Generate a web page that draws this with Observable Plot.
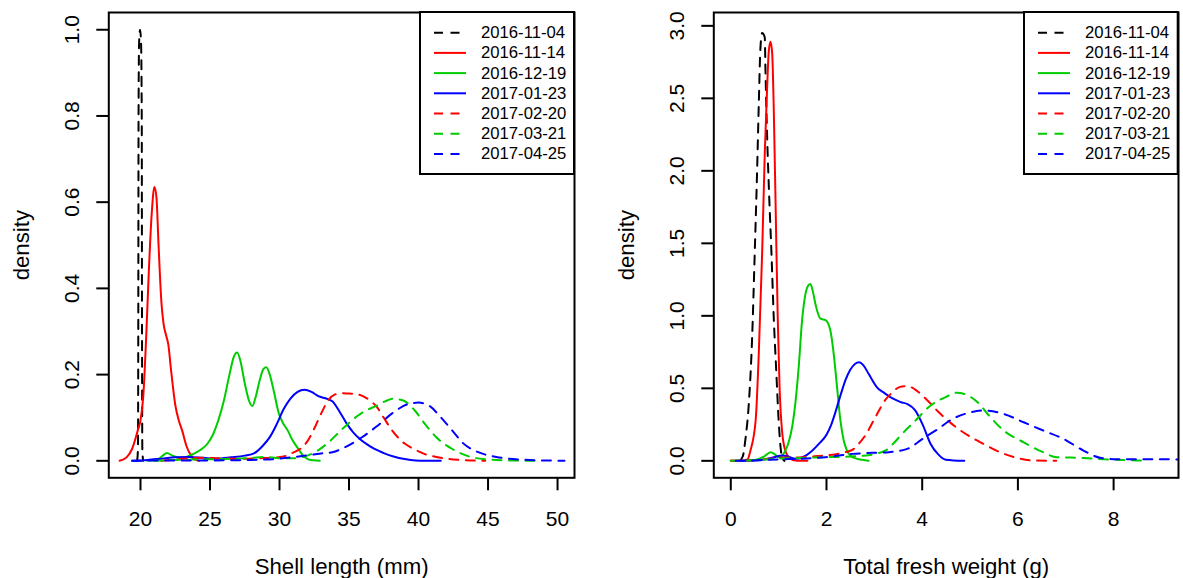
<!DOCTYPE html>
<html><head><meta charset="utf-8">
<script src="https://cdn.jsdelivr.net/npm/d3@7"></script>
<script src="https://cdn.jsdelivr.net/npm/@observablehq/plot@0.6"></script>
<style>
body{margin:0;background:#fff;}
#wrap{position:relative;width:1183px;height:578px;display:flex;font-family:"Liberation Sans",Arial,sans-serif;}
#wrap svg{display:block;}
.legend{position:absolute;}
</style></head><body><div id="wrap"></div>
<script>
// ---- categories / styles ----
const dates = ["2016-11-04","2016-11-14","2016-12-19","2017-01-23","2017-02-20","2017-03-21","2017-04-25"];
const colors = ["#000000","#FF0000","#00CD00","#0000FF","#FF0000","#00CD00","#0000FF"];
const dashed = [true,false,false,false,true,true,true];

// ---- left panel: Shell length (mm) ----
const shellX_1104 = [19.76,19.82,19.84,19.86,19.9,19.97,20.04,20.09,20.11,20.13,20.19];
const shellY_1104 = [0,0.03,0.3,0.8,0.97,1.0,0.97,0.8,0.3,0.03,0];
const shellX_1114 = [18.5,19.0,19.4,19.8,20.0,20.2,20.4,20.6,20.8,21.0,21.15,21.3,21.5,21.65,21.85,22.0,22.2,22.5,22.75,23.0,23.3,23.6,23.9,24.2];
const shellY_1114 = [0,0.008,0.028,0.07,0.094,0.15,0.28,0.44,0.57,0.635,0.61,0.5,0.37,0.32,0.29,0.27,0.21,0.13,0.094,0.07,0.035,0.014,0.003,0];
const shellX_1219 = [20.5,21.2,21.6,21.9,22.3,22.8,23.3,23.8,24.3,24.8,25.2,25.6,26.0,26.4,26.7,26.95,27.2,27.5,27.8,28.05,28.3,28.6,28.85,29.05,29.3,29.6,29.95,30.3,30.6,30.9,31.3,31.7,32.1,32.9];
const shellY_1219 = [0,0.003,0.012,0.018,0.012,0.007,0.009,0.016,0.025,0.039,0.06,0.094,0.14,0.2,0.24,0.251,0.23,0.18,0.14,0.127,0.15,0.19,0.213,0.217,0.2,0.16,0.11,0.085,0.07,0.05,0.03,0.012,0.003,0];
const shellX_0123 = [19.4,20.5,21.5,22.5,23.5,24.5,25.5,26.5,27.5,28.2,28.8,29.3,29.8,30.3,30.8,31.3,31.8,32.3,32.8,33.3,33.8,34.3,34.8,35.3,35.8,36.3,36.8,37.5,38.2,39.0,39.8,41.6];
const shellY_0123 = [0,0.002,0.005,0.008,0.009,0.007,0.005,0.008,0.012,0.018,0.035,0.055,0.085,0.12,0.145,0.16,0.165,0.16,0.15,0.145,0.138,0.115,0.088,0.066,0.05,0.038,0.028,0.018,0.01,0.004,0.001,0];
const shellX_0220 = [21.5,22.5,23.5,24.5,25.5,26.5,27.5,28.5,29.5,30.3,30.9,31.5,32.0,32.5,33.0,33.5,34.0,34.5,35.0,35.5,36.0,36.5,37.0,37.5,38.0,38.5,39.0,39.5,40.0,40.5,41.0,42.0,43.0,44.8];
const shellY_0220 = [0,0.003,0.006,0.007,0.006,0.005,0.005,0.006,0.007,0.01,0.018,0.028,0.045,0.075,0.11,0.14,0.154,0.157,0.156,0.155,0.15,0.14,0.125,0.1,0.075,0.055,0.04,0.03,0.022,0.015,0.011,0.005,0.002,0];
const shellX_0321 = [21.0,22.5,24.0,25.5,27.0,28.0,29.0,30.0,31.0,32.0,32.8,33.5,34.3,35.0,35.65,36.3,37.0,37.6,38.2,38.9,39.7,40.5,41.3,42.4,43.75,45.1,46.5,48.4];
const shellY_0321 = [0,0.002,0.003,0.004,0.005,0.007,0.009,0.006,0.006,0.012,0.025,0.042,0.067,0.088,0.105,0.118,0.128,0.138,0.144,0.14,0.118,0.084,0.054,0.028,0.009,0.003,0.001,0];
const shellX_0425 = [19.4,22,25,28,30,31.6,33.0,33.8,34.8,35.9,37.0,38.1,39.2,40.0,40.8,41.6,42.4,43.2,44.3,45.6,47.3,50.5];
const shellY_0425 = [0,0.001,0.001,0.002,0.005,0.011,0.017,0.02,0.033,0.054,0.08,0.11,0.131,0.135,0.127,0.101,0.071,0.041,0.02,0.009,0.003,0];

// ---- right panel: Total fresh weight (g) ----
const wtX_1104 = [0.18,0.25,0.31,0.376,0.446,0.5,0.55,0.585,0.62,0.655,0.71,0.725,0.76,0.795,0.85,0.9,0.95,1.0,1.04,1.07,1.12];
const wtY_1104 = [0,0.03,0.16,0.39,0.85,1.43,2.0,2.46,2.85,2.95,2.92,2.69,2.23,1.89,1.43,0.97,0.62,0.28,0.094,0.025,0];
const wtX_1114 = [0,0.2,0.35,0.41,0.52,0.585,0.655,0.71,0.76,0.795,0.83,0.865,0.9,0.94,0.98,1.02,1.07,1.14,1.25,1.35,1.6];
const wtY_1114 = [0,0,0.01,0.07,0.28,0.74,1.43,2.12,2.58,2.83,2.89,2.81,2.4,1.7,1.0,0.5,0.21,0.07,0.014,0.003,0];
const wtX_1219 = [0.3,0.5,0.7,0.83,0.92,1.0,1.07,1.14,1.21,1.28,1.35,1.42,1.49,1.56,1.62,1.665,1.72,1.77,1.875,1.98,2.08,2.15,2.22,2.29,2.36,2.43,2.54,2.75,2.88];
const wtY_1219 = [0,0.005,0.03,0.06,0.045,0.025,0.035,0.07,0.13,0.23,0.4,0.65,0.97,1.15,1.21,1.22,1.16,1.08,0.98,0.97,0.9,0.74,0.51,0.28,0.14,0.07,0.025,0.007,0];
const wtX_0123 = [0.2,0.6,0.9,1.07,1.2,1.35,1.5,1.7,1.85,2.0,2.1,2.2,2.3,2.4,2.5,2.6,2.68,2.78,2.88,3.06,3.2,3.38,3.55,3.7,3.85,4.01,4.17,4.33,4.49,4.88];
const wtY_0123 = [0,0.005,0.025,0.037,0.03,0.014,0.025,0.07,0.12,0.18,0.25,0.35,0.46,0.56,0.63,0.67,0.68,0.655,0.6,0.505,0.47,0.43,0.405,0.39,0.35,0.25,0.12,0.046,0.008,0];
const wtX_0220 = [0,0.5,1.0,1.5,1.8,2.2,2.4,2.54,2.68,2.81,3.02,3.23,3.37,3.5,3.62,3.75,3.9,4.1,4.33,4.6,4.96,5.28,5.63,5.98,6.33,6.8];
const wtY_0220 = [0,0.005,0.02,0.025,0.033,0.046,0.06,0.075,0.12,0.175,0.3,0.42,0.47,0.505,0.515,0.51,0.48,0.42,0.34,0.26,0.175,0.117,0.059,0.02,0.002,0];
const wtX_0321 = [0,0.5,1.0,1.5,2.0,2.5,2.9,3.1,3.23,3.4,3.58,3.85,4.17,4.49,4.72,4.96,5.2,5.35,5.7,6.12,6.53,6.81,7.37,7.9,8.59,8.67];
const wtY_0321 = [0,0.005,0.015,0.02,0.025,0.03,0.04,0.055,0.07,0.12,0.186,0.275,0.38,0.44,0.47,0.45,0.39,0.33,0.21,0.128,0.059,0.025,0.02,0.009,0.002,0];
const wtX_0425 = [0.1,0.5,1.0,1.5,1.98,2.54,2.95,3.3,3.7,4.0,4.33,4.64,4.96,5.28,5.70,6.12,6.53,6.95,7.37,7.72,8.07,8.77,9.6];
const wtY_0425 = [0,0.003,0.01,0.015,0.025,0.048,0.055,0.06,0.084,0.15,0.22,0.29,0.33,0.347,0.324,0.266,0.209,0.152,0.071,0.021,0.011,0.011,0.008];

// ---- ticks ----
const shellTicksX = [20,25,30,35,40,45,50];
const shellTicksY = [0,0.2,0.4,0.6,0.8,1.0];
const wtTicksX = [0,2,4,6,8];
const wtTicksY = [0,0.5,1.0,1.5,2.0,2.5,3.0];

const shellSeries = [[shellX_1104,shellY_1104],[shellX_1114,shellY_1114],[shellX_1219,shellY_1219],[shellX_0123,shellY_0123],[shellX_0220,shellY_0220],[shellX_0321,shellY_0321],[shellX_0425,shellY_0425]];
const wtSeries = [[wtX_1104,wtY_1104],[wtX_1114,wtY_1114],[wtX_1219,wtY_1219],[wtX_0123,wtY_0123],[wtX_0220,wtY_0220],[wtX_0321,wtY_0321],[wtX_0425,wtY_0425]];

const FONT = '"Liberation Sans", Arial, sans-serif';
const FS_TICK = 21;
const FS_LABEL = 22.2;

function panel({series, xDomain, yDomain, xTicks, yTicks, xLabel, width, marginLeft, marginRight}) {
  const lines = series.map(([xs, ys], i) => {
    const rows = xs.map((x, j) => ({date: dates[i], x, y: ys[j]}));
    return Plot.line(rows, {x: "x", y: "y", stroke: colors[i], strokeWidth: 2,
      strokeDasharray: dashed[i] ? "9,7.5" : null, curve: "monotone-x", clip: true});
  });
  return Plot.plot({
    width, height: 578, marginLeft, marginRight, marginTop: 12, marginBottom: 100.7,
    style: {fontFamily: FONT, fontSize: FS_TICK + "px", color: "black", background: "white", overflow: "visible"},
    x: {domain: xDomain},
    y: {domain: yDomain},
    marks: [
      ...lines,
      Plot.frame({stroke: "black", strokeWidth: 2}),
      Plot.axisX({ticks: xTicks, tickSize: 13, tickPadding: 20, strokeWidth: 2, fontSize: FS_TICK, fontFamily: FONT,
        label: null}),
      Plot.axisX({ticks: [], fontSize: FS_LABEL, fontFamily: FONT,
        label: xLabel, labelAnchor: "center", labelOffset: 96, labelArrow: "none"}),
      Plot.axisY({ticks: yTicks, tickFormat: d3.format(".1f"), tickSize: 12, tickPadding: 18,
        tickRotate: -90, strokeWidth: 2, fontSize: FS_TICK, fontFamily: FONT, label: null}),
      Plot.axisY({ticks: [], fontSize: FS_LABEL, fontFamily: FONT,
        label: "density", labelAnchor: "center", labelOffset: 96, labelArrow: "none"})
    ]
  });
}

const wrap = document.getElementById("wrap");
wrap.appendChild(panel({series: shellSeries, xDomain: [17.72, 51.22], yDomain: [-0.0394, 1.040],
  xTicks: shellTicksX, yTicks: shellTicksY, xLabel: "Shell length (mm)", width: 591, marginLeft: 108.3, marginRight: 17}));
wrap.appendChild(panel({series: wtSeries, xDomain: [-0.355, 9.356], yDomain: [-0.117, 3.092],
  xTicks: wtTicksX, yTicks: wtTicksY, xLabel: "Total fresh weight (g)", width: 592, marginLeft: 122.3, marginRight: 5}));

function legend(left, width) {
  const h = 162;
  const svg = d3.create("svg").attr("class", "legend")
    .attr("width", width + 2).attr("height", h + 2)
    .style("left", (left - 1) + "px").style("top", "11px");
  svg.append("rect").attr("x", 1).attr("y", 1).attr("width", width).attr("height", h)
    .attr("fill", "white").attr("stroke", "black").attr("stroke-width", 2);
  dates.forEach((d, i) => {
    const cy = 1 + 20.7 + 20.2 * i;
    svg.append("line").attr("x1", 1 + 14).attr("x2", 1 + 46).attr("y1", cy).attr("y2", cy)
      .attr("stroke", colors[i]).attr("stroke-width", 2)
      .attr("stroke-dasharray", dashed[i] ? "9,7.5" : null);
    svg.append("text").attr("x", 1 + 61).attr("y", cy).attr("dominant-baseline", "central")
      .attr("font-family", FONT).attr("font-size", "16.7px").attr("fill", "black").text(d);
  });
  return svg.node();
}
wrap.appendChild(legend(420, 154));
wrap.appendChild(legend(1024.3, 153.7));
</script></body></html>
